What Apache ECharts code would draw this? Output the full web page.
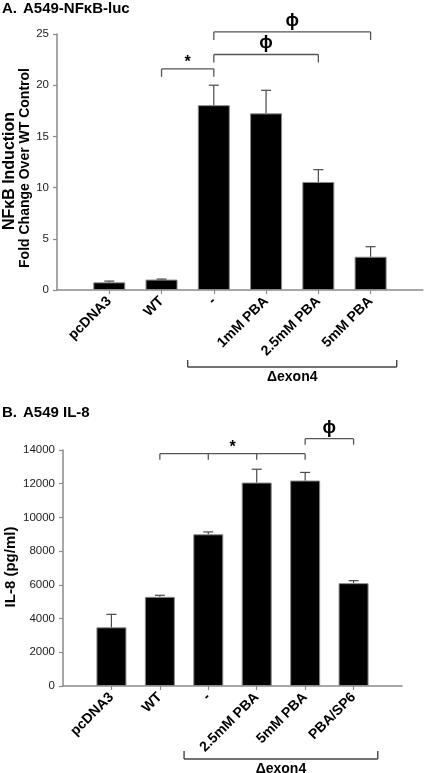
<!DOCTYPE html>
<html><head><meta charset="utf-8">
<script src="https://cdn.jsdelivr.net/npm/echarts@6/dist/echarts.min.js"></script>
<style>html,body{margin:0;padding:0;background:#fff}#c{width:425px;height:773px}</style>
</head><body><div id="c"></div>
<script>
// ---------- Panel A data ----------
const catsA = ['pcDNA3', 'WT', '-', '1mM PBA', '2.5mM PBA', '5mM PBA'];
const meanA = [0.75, 1.02, 18.05, 17.25, 10.55, 3.25];
const errA  = [0.12, 0.05, 1.95, 2.25, 1.2, 0.98];
const yTicksA = [0, 5, 10, 15, 20, 25];
// significance brackets (category indices into catsA)
const sigFromA  = [1, 2, 2];
const sigToA    = [2, 4, 5];
const sigLevelA = [21.6, 23.0, 25.2];
const sigLabelA = ['*', '\u03D5', '\u03D5'];
const sigDropsA = [[1, 2], [2, 4], [2, 5]];
const groupA = ['\u0394exon4', 2, 5];

// ---------- Panel B data ----------
const catsB = ['pcDNA3', 'WT', '-', '2.5mM PBA', '5mM PBA', 'PBA/SP6'];
const meanB = [3480, 5290, 9000, 12070, 12190, 6100];
const errB  = [770, 90, 140, 790, 480, 150];
const yTicksB = [0, 2000, 4000, 6000, 8000, 10000, 12000, 14000];
const sigFromB  = [1, 4];
const sigToB    = [4, 5];
const sigLevelB = [13780, 14670];
const sigLabelB = ['*', '\u03D5'];
const sigDropsB = [[1, 2, 3, 4], [4, 5]];
const groupB = ['\u0394exon4', 2, 5];

const FF = 'Liberation Sans, Arial, Helvetica, sans-serif';
const AXC = '#8a8a8a';

function padCats(c) { return ['L'].concat(c, ['R']); }
function padVals(v) { return [null].concat(v, [null]); }

function xAxisFor(grid, cats) {
  const n = cats.length + 1;
  return {
    type: 'category', gridIndex: grid, data: padCats(cats), boundaryGap: false,
    axisLine: { lineStyle: { color: AXC, width: 1.5 } },
    axisTick: { length: 4, lineStyle: { color: AXC, width: 1.2 }, interval: (i) => i > 0 && i < n },
    axisLabel: {
      interval: 0, rotate: 45, margin: 9, color: '#000',
      fontFamily: FF, fontWeight: 'bold', fontSize: 14,
      formatter: (v, i) => (i === 0 || i === n) ? '' : v
    },
    splitLine: { show: false }
  };
}
function yAxisFor(grid, ticks) {
  return {
    type: 'value', gridIndex: grid, min: ticks[0], max: ticks[ticks.length - 1],
    interval: ticks[1] - ticks[0],
    axisLine: { show: true, lineStyle: { color: AXC, width: 1.5 } },
    axisTick: { show: true, length: 4, lineStyle: { color: AXC, width: 1.2 } },
    axisLabel: { color: '#222', fontFamily: FF, fontSize: 11.5, margin: 8, formatter: (v) => String(v) },
    splitLine: { show: false }
  };
}

function errSeries(grid, mean, err) {
  return {
    type: 'custom', xAxisIndex: grid, yAxisIndex: grid, clip: false, z: 5,
    data: mean.map((m, i) => [i + 1, m, m + err[i]]),
    encode: { x: 0, y: [1, 2] },
    renderItem: function (params, api) {
      const x = api.value(0);
      const p0 = api.coord([x, api.value(1)]);
      const p1 = api.coord([x, api.value(2)]);
      const w = 5, st = { stroke: '#4a4a4a', lineWidth: 1.2 };
      return { type: 'group', children: [
        { type: 'line', shape: { x1: p0[0], y1: p0[1], x2: p1[0], y2: p1[1] }, style: st },
        { type: 'line', shape: { x1: p1[0] - w, y1: p1[1], x2: p1[0] + w, y2: p1[1] }, style: st }
      ] };
    }
  };
}

function sigSeries(grid, from, to, level, labels, drops, dropLen) {
  return {
    type: 'custom', xAxisIndex: grid, yAxisIndex: grid, clip: false, z: 6,
    data: level.map((lv, i) => [from[i] + 1, lv]),
    encode: { x: 0, y: 1 },
    renderItem: function (params, api) {
      const i = params.dataIndex;
      const lv = level[i];
      const a = api.coord([from[i] + 1, lv]);
      const b = api.coord([to[i] + 1, lv]);
      const st = { stroke: '#555', lineWidth: 1.3 };
      const ch = [{ type: 'line', shape: { x1: a[0], y1: a[1], x2: b[0], y2: b[1] }, style: st }];
      drops[i].forEach(function (d) {
        const p = api.coord([d + 1, lv]);
        ch.push({ type: 'line', shape: { x1: p[0], y1: p[1], x2: p[0], y2: p[1] + dropLen }, style: st });
      });
      const isStar = labels[i] === '*';
      ch.push({ type: 'text', style: {
        text: labels[i], x: (a[0] + b[0]) / 2, y: a[1] - (isStar ? 6 : 11),
        textAlign: 'center', textVerticalAlign: 'middle', align: 'center', verticalAlign: 'middle',
        font: isStar ? 'bold 16px ' + FF : 'bold 18px ' + FF, fill: '#000'
      } });
      return { type: 'group', children: ch };
    }
  };
}

function groupSeries(grid, g, below, tickUp) {
  return {
    type: 'custom', xAxisIndex: grid, yAxisIndex: grid, clip: false, z: 6,
    data: [[g[1] + 1, 0]],
    encode: { x: 0, y: 1 },
    renderItem: function (params, api) {
      const a = api.coord([g[1] + 1, 0]);
      const a2 = api.coord([g[1] + 2, 0]);
      const b = api.coord([g[2] + 1, 0]);
      const half = (a2[0] - a[0]) / 2;
      const y = a[1] + below;
      const x1 = a[0] - half, x2 = b[0] + half;
      const st = { stroke: '#444', lineWidth: 1.4 };
      return { type: 'group', children: [
        { type: 'line', shape: { x1: x1, y1: y, x2: x2, y2: y }, style: st },
        { type: 'line', shape: { x1: x1, y1: y, x2: x1, y2: y - tickUp }, style: st },
        { type: 'line', shape: { x1: x2, y1: y, x2: x2, y2: y - tickUp }, style: st },
        { type: 'text', style: { text: g[0], x: (x1 + x2) / 2, y: y + 10,
          textAlign: 'center', textVerticalAlign: 'middle', align: 'center', verticalAlign: 'middle',
          font: 'bold 14px ' + FF, fill: '#000' } }
      ] };
    }
  };
}

function barSeries(grid, mean, w) {
  return {
    type: 'bar', xAxisIndex: grid, yAxisIndex: grid, data: padVals(mean), barWidth: w,
    itemStyle: { color: '#000', borderColor: '#8a8a8a', borderWidth: 1 }, z: 3
  };
}

const chart = echarts.init(document.getElementById('c'), null, { renderer: 'canvas' });
chart.setOption({
  backgroundColor: '#fff',
  animation: false,
  grid: [
    { left: 57, top: 34, width: 366, height: 256 },
    { left: 63, top: 450, width: 339, height: 236 }
  ],
  xAxis: [xAxisFor(0, catsA), xAxisFor(1, catsB)],
  yAxis: [yAxisFor(0, yTicksA), yAxisFor(1, yTicksB)],
  series: [
    barSeries(0, meanA, 32),
    errSeries(0, meanA, errA),
    sigSeries(0, sigFromA, sigToA, sigLevelA, sigLabelA, sigDropsA, 8),
    groupSeries(0, groupA, 77, 7),
    barSeries(1, meanB, 30),
    errSeries(1, meanB, errB),
    sigSeries(1, sigFromB, sigToB, sigLevelB, sigLabelB, sigDropsB, 6),
    groupSeries(1, groupB, 73, 8)
  ],
  graphic: [
    { type: 'text', left: 2, top: 1, style: { text: 'A.', font: 'bold 15px ' + FF, fill: '#000' } },
    { type: 'text', left: 23, top: 1, style: { text: 'A549-NF\u03BAB-luc', font: 'bold 15px ' + FF, fill: '#000' } },
    { type: 'text', left: 2, top: 405, style: { text: 'B.', font: 'bold 15px ' + FF, fill: '#000' } },
    { type: 'text', left: 23, top: 405, style: { text: 'A549 IL-8', font: 'bold 15px ' + FF, fill: '#000' } },
    { type: 'text', x: 10, y: 171, rotation: Math.PI / 2, style: { text: 'NF\u03BAB Induction', font: 'bold 16px ' + FF, fill: '#000', textAlign: 'center', textVerticalAlign: 'middle', align: 'center', verticalAlign: 'middle' } },
    { type: 'text', x: 25, y: 168, rotation: Math.PI / 2, style: { text: 'Fold Change Over WT Control', font: 'bold 14px ' + FF, fill: '#000', textAlign: 'center', textVerticalAlign: 'middle', align: 'center', verticalAlign: 'middle' } },
    { type: 'text', x: 11, y: 567, rotation: Math.PI / 2, style: { text: 'IL-8 (pg/ml)', font: 'bold 15px ' + FF, fill: '#000', textAlign: 'center', textVerticalAlign: 'middle', align: 'center', verticalAlign: 'middle' } }
  ]
});
</script>
</body></html>
